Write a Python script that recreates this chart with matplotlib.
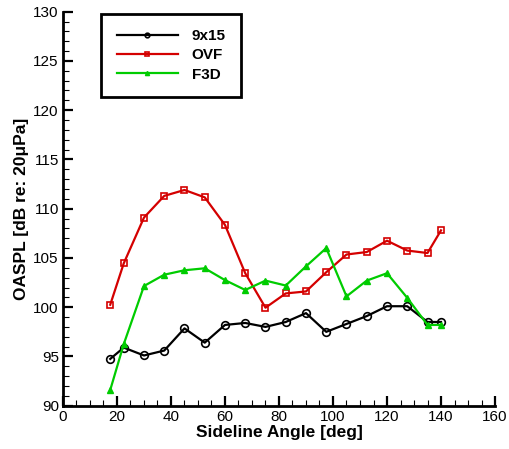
import matplotlib
matplotlib.use("Agg")
import matplotlib.pyplot as plt
from matplotlib.ticker import MultipleLocator

plt.rcParams['font.family'] = ['Liberation Sans', 'DejaVu Sans']

angles = [17.5, 22.5, 30, 37.5, 45, 52.5, 60, 67.5, 75, 82.5, 90, 97.5,
          105, 112.5, 120, 127.5, 135, 140]
oaspl_9x15 = [94.75, 95.9, 95.1, 95.6, 97.85, 96.4, 98.2, 98.4, 98.0, 98.5,
              99.4, 97.5, 98.3, 99.1, 100.1, 100.1, 98.5, 98.5]
oaspl_ovf = [100.25, 104.45, 109.1, 111.3, 111.9, 111.15, 108.35, 103.45,
             99.95, 101.4, 101.6, 103.55, 105.35, 105.6, 106.75, 105.75,
             105.5, 107.8]
oaspl_f3d = [91.6, 96.25, 102.15, 103.3, 103.75, 103.95, 102.75, 101.75,
             102.7, 102.2, 104.15, 106.0, 101.1, 102.7, 103.45, 100.95,
             98.2, 98.2]
series_labels = ["9x15", "OVF", "F3D"]

fig = plt.figure(figsize=(5.10, 4.49), dpi=100)
ax = fig.add_axes([0.1235, 0.0964, 0.8471, 0.8776])

ax.plot(angles, oaspl_9x15, color='black', lw=1.6, marker='o', ms=5.5,
        mfc='none', mew=1.2, label=series_labels[0])
ax.plot(angles, oaspl_ovf, color='#d40000', lw=1.6, marker='s', ms=5,
        mfc='none', mew=1.2, label=series_labels[1])
ax.plot(angles, oaspl_f3d, color='#00cc00', lw=1.6, marker='^', ms=5,
        mfc='#00cc00', mew=1.0, label=series_labels[2])

ax.set_xlim(0, 160)
ax.set_ylim(90, 130)
ax.xaxis.set_major_locator(MultipleLocator(20))
ax.xaxis.set_minor_locator(MultipleLocator(5))
ax.yaxis.set_major_locator(MultipleLocator(5))
ax.yaxis.set_minor_locator(MultipleLocator(1))
ax.tick_params(which='major', direction='in', length=7, width=1.6,
               labelsize=11, pad=3)
ax.tick_params(which='minor', direction='in', length=4, width=0.8)
ax.spines['top'].set_visible(False)
ax.spines['right'].set_visible(False)
ax.spines['left'].set_linewidth(2)
ax.spines['bottom'].set_linewidth(2)

ax.set_xlabel("Sideline Angle [deg]", fontsize=12.5, fontweight='bold',
              labelpad=1)
ax.set_ylabel("OASPL [dB re: 20\u03bcPa]", fontsize=12.5, fontweight='bold',
              labelpad=3)

leg = ax.legend(loc='upper left', bbox_to_anchor=(0.089, 0.995),
                prop={'weight': 'bold', 'size': 11},
                frameon=True, fancybox=False, edgecolor='black',
                framealpha=1, handlelength=4.0, markerscale=0.6,
                borderpad=1.0, labelspacing=0.35, handletextpad=0.9,
                borderaxespad=0)
leg.get_frame().set_linewidth(2)

fig.savefig("out.png", dpi=100)
